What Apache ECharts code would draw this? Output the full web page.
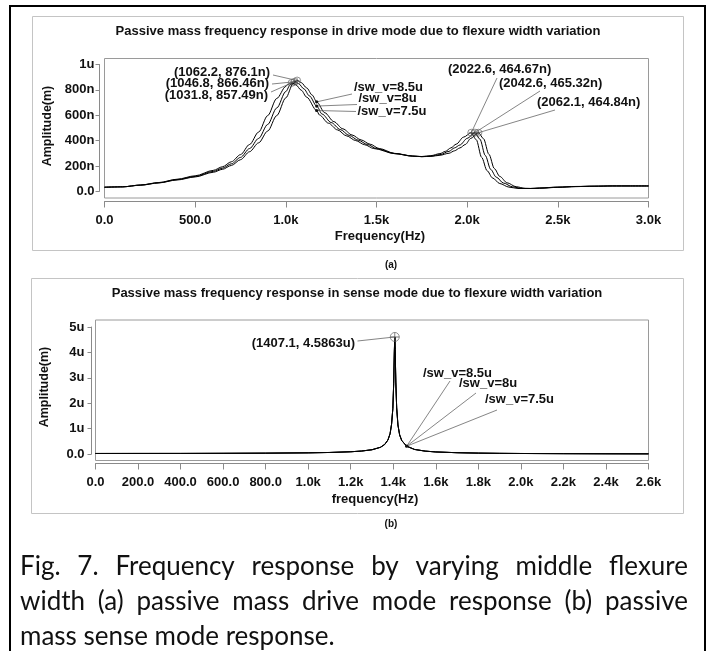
<!DOCTYPE html>
<html><head><meta charset="utf-8">
<script src="https://cdn.jsdelivr.net/npm/echarts@6/dist/echarts.min.js"></script>
<style>html,body{margin:0;padding:0;background:#fff}#c{width:707px;height:651px}</style>
</head><body><div id="c"></div>
<script>
// ---------------- DATA ----------------
const seriesNames = ['/sw_v=8.5u', '/sw_v=8u', '/sw_v=7.5u'];

// Drive mode: [frequency Hz, amplitude nm]
const drive85 = [[0,35],[100,38],[200,51],[300,69],[400,92],[500,116],[600,153],[650,176],[700,207],[750,252],[800,315],[850,385],[900,478],[950,600],[1000,740],[1040,850],[1062.2,876.1],[1085,860],[1115,818],[1145,762],[1170,708],[1215,622],[1265,552],[1315,495],[1365,447],[1415,408],[1465,374],[1515,340],[1600,302],[1700,281],[1750,276],[1800,278],[1850,287],[1900,303],[1930,322],[1960,345],[1990,372],[2020,420],[2062.1,464.84],[2090,418],[2120,295],[2150,182],[2180,120],[2220,70],[2270,39],[2320,26],[2370,25],[2400,27],[2500,34],[2600,40],[2700,43],[2800,45],[2900,45],[3000,45]];
const drive80 = [[0,35],[100,38],[200,52],[300,70],[400,95],[500,120],[600,160],[650,185],[700,220],[750,270],[800,340],[850,420],[900,530],[950,660],[1000,790],[1025,845],[1046.8,866.46],[1070,852],[1100,810],[1130,755],[1170,675],[1200,612],[1250,545],[1300,490],[1350,443],[1400,405],[1450,372],[1500,340],[1600,300],[1700,280],[1750,276],[1800,280],[1850,292],[1900,318],[1930,345],[1960,368],[2000,420],[2042.6,465.32],[2070,415],[2100,285],[2130,175],[2160,115],[2200,68],[2250,38],[2300,26],[2350,25],[2400,28],[2500,35],[2600,40],[2700,43],[2800,45],[2900,45],[3000,45]];
const drive75 = [[0,35],[100,38],[200,53],[300,72],[400,98],[500,125],[600,168],[650,196],[700,236],[750,292],[800,372],[850,470],[900,600],[950,735],[1000,830],[1010,845],[1031.8,857.49],[1055,843],[1085,800],[1115,745],[1170,640],[1185,605],[1235,540],[1285,487],[1335,440],[1385,403],[1435,370],[1485,340],[1600,300],[1700,280],[1750,277],[1800,284],[1850,300],[1880,318],[1910,345],[1940,375],[1980,430],[2022.6,464.67],[2050,410],[2080,270],[2110,165],[2140,108],[2180,64],[2230,36],[2280,25],[2350,25],[2400,29],[2500,36],[2600,41],[2700,43],[2800,45],[2900,45],[3000,45]];

// Marked peaks in drive mode [f, nm] for 8.5u, 8u, 7.5u
const drivePeak1 = [[1062.2,876.1],[1046.8,866.46],[1031.8,857.49]];
const drivePeak2 = [[2062.1,464.84],[2042.6,465.32],[2022.6,464.67]];

// Sense mode: frequency (Hz) and amplitude (um), three curves overlap
const senseF   = [0,200,400,600,800,1000,1100,1200,1250,1300,1340,1360,1375,1385,1392,1398,1402,1405,1407.1,1409,1412,1416,1422,1430,1440,1463,1500,1550,1600,1700,1800,1900,2000,2200,2400,2600];
const sense85  = [0.025,0.026,0.027,0.031,0.037,0.05,0.064,0.092,0.119,0.171,0.268,0.38,0.554,0.80,1.17,1.79,2.77,4.01,4.5863,4.10,2.82,1.81,1.14,0.75,0.53,0.31,0.183,0.117,0.085,0.055,0.039,0.03,0.0245,0.0173,0.0131,0.0104];
const sense80  = [0.025,0.026,0.027,0.031,0.037,0.05,0.064,0.092,0.119,0.171,0.268,0.38,0.554,0.80,1.17,1.79,2.77,4.01,4.5863,4.10,2.82,1.81,1.14,0.75,0.53,0.31,0.183,0.117,0.085,0.055,0.039,0.03,0.0245,0.0173,0.0131,0.0104];
const sense75  = [0.025,0.026,0.027,0.031,0.037,0.05,0.064,0.092,0.119,0.171,0.268,0.38,0.554,0.80,1.17,1.79,2.77,4.01,4.5863,4.10,2.82,1.81,1.14,0.75,0.53,0.31,0.183,0.117,0.085,0.055,0.039,0.03,0.0245,0.0173,0.0131,0.0104];
const sensePeak = [1407.1, 4.5863];

// Tick labels
const driveXTicks = ['0.0','500.0','1.0k','1.5k','2.0k','2.5k','3.0k'];
const driveYTicks = ['0.0','200n','400n','600n','800n','1u'];
const senseXTicks = ['0.0','200.0','400.0','600.0','800.0','1.0k','1.2k','1.4k','1.6k','1.8k','2.0k','2.2k','2.4k','2.6k'];
const senseYTicks = ['0.0','1u','2u','3u','4u','5u'];

// Texts
const titleA = 'Passive mass frequency response in drive mode due to flexure width variation';
const titleB = 'Passive mass frequency response in sense mode due to flexure width variation';
const yNameText = 'Amplitude(m)';
const xNameA = 'Frequency(Hz)';
const xNameB = 'frequency(Hz)';
const captionLines = ['Fig. 7. Frequency response by varying middle flexure',
                      'width (a) passive mass drive mode response (b) passive',
                      'mass sense mode response.'];

// ---------------- CHART ----------------
const FONT = "'Liberation Sans', Arial, Helvetica, sans-serif";
const AX = '#8a8a8a';
const lbl = {color:'#111', fontFamily:FONT, fontWeight:'bold', fontSize:13};
const bold13 = 'bold 13px ' + FONT;

const chart = echarts.init(document.getElementById('c'), null, {renderer:'canvas'});

const hiddenX = (g,min,max) => ({gridIndex:g, type:'value', min, max, show:false});
const hiddenY = (g,min,max) => ({gridIndex:g, type:'value', min, max, show:false});

const lineSeries = (name, data, xi, smooth) => ({
  name, type:'line', xAxisIndex:xi, yAxisIndex:xi, data, showSymbol:false, symbol:'none',
  smooth, smoothMonotone:'x', lineStyle:{color:'#000', width:1}, animation:false, z:3
});

const option = {
  backgroundColor:'#fff',
  animation:false,
  grid:[
    {left:104.5, top:58.5, width:544, height:139.5, show:true, borderColor:'#9a9a9a', borderWidth:1},
    {left:99.5, top:64.5, width:300, height:126.8},
    {left:104.5, top:150, width:544, height:51.5},
    {left:95.5, top:320, width:553, height:140.5, show:true, borderColor:'#9a9a9a', borderWidth:1},
    {left:91.5, top:327, width:300, height:127},
    {left:95.5, top:420, width:553, height:43.5}
  ],
  xAxis:[
    hiddenX(0,0,3000),
    hiddenX(1,0,1),
    {gridIndex:2, type:'value', min:0, max:3000, interval:500, position:'bottom',
     axisLine:{show:true, lineStyle:{color:AX, width:1}}, axisTick:{show:true, length:6, lineStyle:{color:AX}},
     splitLine:{show:false}, axisLabel:{...lbl, margin:12, showMinLabel:true, showMaxLabel:true,
       formatter:v => driveXTicks[Math.round(v/500)]}},
    hiddenX(3,0,2600),
    hiddenX(4,0,1),
    {gridIndex:5, type:'value', min:0, max:2600, interval:200, position:'bottom',
     axisLine:{show:true, lineStyle:{color:AX, width:1}}, axisTick:{show:true, length:6, lineStyle:{color:AX}},
     splitLine:{show:false}, axisLabel:{...lbl, margin:12, showMinLabel:true, showMaxLabel:true,
       formatter:v => senseXTicks[Math.round(v/200)]}}
  ],
  yAxis:[
    hiddenY(0,-50,1050),
    {gridIndex:1, type:'value', min:0, max:1000, interval:200, position:'left',
     axisLine:{show:true, lineStyle:{color:AX, width:1}}, axisTick:{show:true, length:4, lineStyle:{color:AX}},
     splitLine:{show:false}, axisLabel:{...lbl, margin:5, showMinLabel:true, showMaxLabel:true,
       formatter:v => driveYTicks[Math.round(v/200)]}},
    hiddenY(2,0,1),
    hiddenY(3,-0.25,5.25),
    {gridIndex:4, type:'value', min:0, max:5, interval:1, position:'left',
     axisLine:{show:true, lineStyle:{color:AX, width:1}}, axisTick:{show:true, length:4, lineStyle:{color:AX}},
     splitLine:{show:false}, axisLabel:{...lbl, margin:7, showMinLabel:true, showMaxLabel:true,
       formatter:v => senseYTicks[Math.round(v)]}},
    hiddenY(5,0,1)
  ],
  series:[
    lineSeries(seriesNames[0], drive85, 0, 0.3),
    lineSeries(seriesNames[1], drive80, 0, 0.3),
    lineSeries(seriesNames[2], drive75, 0, 0.3),
    {type:'scatter', xAxisIndex:0, yAxisIndex:0, data:drivePeak1.concat(drivePeak2), symbol:'circle', symbolSize:7,
     itemStyle:{color:'rgba(0,0,0,0)', borderColor:'#555', borderWidth:0.8}, z:5, animation:false},
    {type:'scatter', xAxisIndex:0, yAxisIndex:0, data:drivePeak1.concat(drivePeak2), symbol:'path://M4.5,0h1v10h-1zM0,4.5h10v1h-10z', symbolSize:5,
     itemStyle:{color:'#222'}, z:6, animation:false},
    lineSeries(seriesNames[0], senseF.map((f,i)=>[f,sense85[i]]), 3, false),
    lineSeries(seriesNames[1], senseF.map((f,i)=>[f,sense80[i]]), 3, false),
    lineSeries(seriesNames[2], senseF.map((f,i)=>[f,sense75[i]]), 3, false),
    {type:'scatter', xAxisIndex:3, yAxisIndex:3, data:[sensePeak], symbol:'circle', symbolSize:9,
     itemStyle:{color:'rgba(0,0,0,0)', borderColor:'#555', borderWidth:0.8}, z:5, animation:false},
    {type:'scatter', xAxisIndex:3, yAxisIndex:3, data:[sensePeak], symbol:'path://M4.5,0h1v10h-1zM0,4.5h10v1h-10z', symbolSize:9,
     itemStyle:{color:'#555'}, z:6, animation:false}
  ]
};
chart.setOption(option);

// ---------------- ANNOTATIONS / FRAME ----------------
const P = (g, pt) => chart.convertToPixel({gridIndex:g}, pt);
const els = [];
const txt = (text, x, y, align, font, extra) => els.push(Object.assign({type:'text', x, y, z:100,
  style:{text, fill:'#111', font, textAlign:align, textVerticalAlign:'middle'}}, extra||{}));
const line = (x1,y1,x2,y2,stroke,w) => els.push({type:'line', z:90, shape:{x1,y1,x2,y2}, style:{stroke:stroke||'#666', lineWidth:w||0.8}});
const dot = (p) => els.push({type:'circle', z:95, shape:{cx:p[0], cy:p[1], r:1.6}, style:{fill:'#111'}});

// outer frame and panel boxes
els.push({type:'rect', z:1, shape:{x:10, y:6, width:695, height:700}, style:{fill:'none', stroke:'#000', lineWidth:2}});
els.push({type:'rect', z:1, shape:{x:32.5, y:16.5, width:651, height:234}, style:{fill:'none', stroke:'#c4c4c4', lineWidth:1}});
els.push({type:'rect', z:1, shape:{x:31.5, y:278.5, width:652, height:235}, style:{fill:'none', stroke:'#c4c4c4', lineWidth:1}});

// titles and axis names
txt(titleA, 358, 31, 'center', bold13);
txt(titleB, 357, 293, 'center', bold13);
txt(yNameText, 48, 126, 'center', 'bold 12.5px ' + FONT, {rotation:Math.PI/2});
txt(yNameText, 45, 387, 'center', 'bold 12.5px ' + FONT, {rotation:Math.PI/2});
txt(xNameA, 380, 236, 'center', bold13);
txt(xNameB, 375, 499, 'center', bold13);
txt('(a)', 391, 265, 'center', 'bold 10px ' + FONT);
txt('(b)', 391, 524, 'center', 'bold 10px ' + FONT);

// drive peak-1 labels (right aligned) and leaders
const pk1Lab = [[270,72],[269,83.5],[268,95]];
const pk1Start = [[273,75],[272,84],[271,92]];
drivePeak1.forEach((pk,i) => {
  txt('(' + pk[0] + ', ' + pk[1] + 'n)', pk1Lab[i][0], pk1Lab[i][1], 'right', bold13);
  const p = P(0, pk);
  line(pk1Start[i][0], pk1Start[i][1], p[0], p[1]);
});
// drive peak-2 labels (left aligned), order 7.5u, 8u, 8.5u top to bottom
const pk2Order = [2,1,0];
const pk2Lab = [[448,69.5],[499,83],[537,102.5]];
const pk2Start = [[497,78],[540,91],[555,110]];
pk2Order.forEach((k,i) => {
  const pk = drivePeak2[k];
  txt('(' + pk[0] + ', ' + pk[1] + 'n)', pk2Lab[i][0], pk2Lab[i][1], 'left', bold13);
  const p = P(0, pk);
  line(pk2Start[i][0], pk2Start[i][1], p[0], p[1]);
});
// drive curve name labels
const leaderF = 1170;
const driveSets = [drive85, drive80, drive75];
const nameLabA = [[354,87],[358.5,98.5],[357.5,111.5]];
const nameStartA = [[352,94],[357,104.5],[356,111.5]];
driveSets.forEach((d,i) => {
  txt(seriesNames[i], nameLabA[i][0], nameLabA[i][1], 'left', bold13);
  const pt = d.find(q => q[0] === leaderF);
  const p = P(0, pt);
  line(nameStartA[i][0], nameStartA[i][1], p[0], p[1]);
  dot(p);
});

// sense annotations
txt('(' + sensePeak[0] + ', ' + sensePeak[1] + 'u)', 355, 343.5, 'right', bold13);
{ const p = P(3, sensePeak); line(357.5, 341, p[0], p[1]); }
const senseLeaderF = 1463;
const si = senseF.indexOf(senseLeaderF);
const senseSets = [sense85, sense80, sense75];
const nameLabB = [[423,373],[459,383.5],[485,399.5]];
const nameStartB = [[450,381],[476,393],[497,410]];
senseSets.forEach((s,i) => {
  txt(seriesNames[i], nameLabB[i][0], nameLabB[i][1], 'left', bold13);
  const p = P(3, [senseF[si], s[si]]);
  line(nameStartB[i][0], nameStartB[i][1], p[0], p[1]);
  if (i === 0) dot(p);
});

// caption (justified)
const capLeft = 20, capRight = 688, capY = [567, 602, 637];
const capFamily = "Lato, 'Noto Sans', sans-serif";
const mctx = document.createElement('canvas').getContext('2d');
const measure = (s, size) => { mctx.font = size + 'px ' + capFamily; return mctx.measureText(s).width; };
let capSize = 22 * 314 / measure(captionLines[2], 22);
capSize = Math.round(capSize * 10) / 10;
const capFont = capSize + 'px ' + capFamily;
captionLines.forEach((ln, li) => {
  const words = ln.split(' ');
  if (li === captionLines.length - 1) {
    txt(ln, capLeft, capY[li], 'left', capFont);
    return;
  }
  const ws = words.map(w => measure(w, capSize));
  const total = ws.reduce((a,b)=>a+b,0);
  const gap = (capRight - capLeft - total) / (words.length - 1);
  let x = capLeft;
  words.forEach((w, wi) => { txt(w, x, capY[li], 'left', capFont); x += ws[wi] + gap; });
});

chart.setOption({graphic:{elements:els}});
</script></body></html>
